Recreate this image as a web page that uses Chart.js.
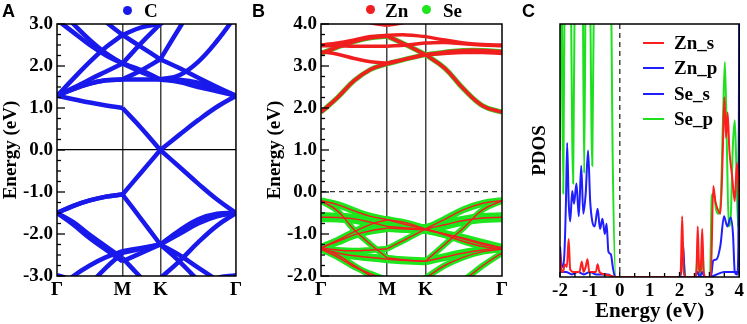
<!DOCTYPE html>
<html>
<head>
<meta charset="utf-8">
<script src="https://cdn.jsdelivr.net/npm/chart.js@4.4.0/dist/chart.umd.min.js"></script>
<style>
body { margin: 0; background: #fff; width: 747px; height: 324px; position: relative; overflow: hidden; }
canvas { position: absolute; top: 0; display: block; }
.tag { position: absolute; top: 2px; font: bold 18px "Liberation Sans", Arial, sans-serif; line-height: 18px; }
.txt { position: absolute; font: bold 19px "Liberation Serif", "Times New Roman", serif; line-height: 18px; }
.dot { position: absolute; width: 9px; height: 9px; border-radius: 50%; }
.sw { position: absolute; width: 21px; height: 2px; }
</style>
</head>
<body>
<canvas id="chartA" width="245" height="324" style="left:0"></canvas>
<canvas id="chartB" width="270" height="324" style="left:245px"></canvas>
<canvas id="chartC" width="232" height="324" style="left:515px"></canvas>

<div class="tag" style="left:2px">A</div>
<div class="tag" style="left:252px">B</div>
<div class="tag" style="left:522px">C</div>

<div class="dot" style="left:123px;top:6px;background:rgb(25,25,235)"></div>
<div class="txt" style="left:144px;top:2px">C</div>
<div class="dot" style="left:366px;top:5px;background:rgb(240,30,30)"></div>
<div class="txt" style="left:385px;top:2px">Zn</div>
<div class="dot" style="left:422px;top:5px;background:rgb(30,230,30)"></div>
<div class="txt" style="left:443px;top:2px">Se</div>
<div id="legendC"></div>

<script>
// k path: Γ - M - K - Γ
const kPath = [0, 0.2165, 0.433, 0.6495, 0.866, 1.116, 1.366, 1.6165, 1.866, 2.1165, 2.366];
const kTicks = [0, 0.866, 1.366, 2.366];
const kLabels = ['Γ', 'M', 'K', 'Γ'];
const segments = [[0, 4], [4, 6], [6, 10]];

// panel A, graphene bands (eV) at each kPath point
const bandsA = [
  [1.29, 1.21, 1.13, 1.06, 1.00, 0.52, 0.00, 0.36, 0.71, 1.03, 1.29],
  [1.29, 1.45, 1.58, 1.66, 1.68, 1.68, 1.68, 1.67, 1.60, 1.45, 1.29],
  [1.29, 1.48, 1.68, 1.87, 2.06, 2.55, 3.00, 3.40, 3.80, 4.20, 4.50],
  [4.40, 3.90, 3.45, 3.05, 2.74, 2.45, 2.16, 1.95, 1.72, 1.50, 1.29],
  [3.10, 2.80, 2.50, 2.25, 2.06, 1.85, 1.68, 1.78, 2.10, 2.60, 3.20],
  [3.40, 3.00, 2.62, 2.30, 2.06, 1.90, 1.68, 1.62, 1.50, 1.40, 1.29],
  [1.29, 1.70, 2.10, 2.45, 2.74, 2.92, 3.00, 3.30, 3.60, 3.90, 4.20],
  [1.29, 1.45, 1.58, 1.66, 1.68, 1.90, 2.16, 2.90, 3.60, 4.20, 4.80],
  [-1.50, -1.33, -1.20, -1.11, -1.06, -0.53, 0.00, -0.40, -0.80, -1.18, -1.50],
  [-1.50, -1.33, -1.20, -1.11, -1.06, -1.65, -2.25, -2.65, -3.10, -3.50, -3.90],
  [-1.50, -1.72, -2.02, -2.30, -2.57, -3.05, -3.50, -3.80, -4.00, -4.10, -4.10],
  [-1.50, -1.78, -2.10, -2.38, -2.65, -2.45, -2.25, -2.50, -2.80, -3.10, -3.40],
  [-3.30, -3.00, -2.75, -2.55, -2.41, -2.33, -2.25, -2.00, -1.75, -1.58, -1.50],
  [-4.00, -3.60, -3.20, -2.80, -2.45, -2.35, -2.25, -1.92, -1.65, -1.52, -1.50],
  [-2.98, -3.10, -3.30, -3.50, -3.60, -3.70, -3.80, -3.60, -3.30, -3.05, -2.98],
  [-4.60, -4.20, -3.90, -3.60, -3.40, -3.20, -3.05, -2.65, -2.20, -1.80, -1.50]
];

// panel B, ZnSe conduction bands (Zn-like, red)
const condB = [
  [1.90, 2.25, 2.65, 2.92, 3.05, 3.17, 3.27, 3.33, 3.37, 3.37, 3.34],
  [3.30, 3.45, 3.58, 3.67, 3.71, 3.50, 3.27, 2.95, 2.45, 2.05, 1.90],
  [3.34, 3.28, 3.18, 3.10, 3.07, 3.17, 3.27, 3.30, 3.32, 3.32, 3.30],
  [3.50, 3.55, 3.62, 3.70, 3.73, 3.74, 3.70, 3.62, 3.55, 3.51, 3.50],
  [3.48, 3.48, 3.47, 3.47, 3.47, 3.50, 3.55, 3.56, 3.53, 3.50, 3.48],
  [4.60, 4.35, 4.15, 4.03, 3.97, 4.05, 4.25, 4.50, 4.70, 4.80, 4.80]
];
// panel B, valence bands (Se-like, green with red core)
const valB = [
  [-0.21, -0.30, -0.45, -0.58, -0.66, -0.78, -0.88, -0.65, -0.42, -0.27, -0.21],
  [-0.21, -0.45, -0.90, -1.25, -1.57, -1.62, -1.65, -1.25, -0.85, -0.42, -0.21],
  [-1.33, -1.15, -0.95, -0.77, -0.66, -0.74, -0.88, -1.00, -1.12, -1.25, -1.33],
  [-1.33, -1.38, -1.40, -1.38, -1.35, -1.12, -0.88, -1.02, -1.18, -1.30, -1.36],
  [-0.60, -0.61, -0.64, -0.72, -0.82, -0.86, -0.88, -0.78, -0.68, -0.62, -0.60],
  [-1.33, -1.18, -1.02, -0.92, -0.86, -0.88, -0.90, -1.00, -1.10, -1.22, -1.33],
  [-1.36, -1.45, -1.52, -1.56, -1.60, -1.63, -1.65, -1.55, -1.45, -1.38, -1.33],
  [-1.36, -1.55, -1.78, -1.95, -2.10, -2.15, -2.05, -1.75, -1.55, -1.42, -1.36],
  [-1.33, -1.50, -1.75, -2.00, -2.25, -2.40, -2.50, -2.40, -2.10, -1.75, -1.45]
];
const valGreenWidth = [7, 6, 7, 6, 10, 8, 8, 6, 6];

// panel C, PDOS
const pdosLabels = ['Zn_s', 'Zn_p', 'Se_s', 'Se_p'];
const pdosColors = ['#ff1e1e', '#1e1eff', '#1e1eff', '#1ee01e'];
const eZnS = [-2.00,-1.96,-1.90,-1.84,-1.77,-1.71,-1.66,-1.55,-1.45,-1.35,-1.27,-1.21,-1.14,-1.08,-1.02,-0.90,-0.80,-0.74,-0.68,-0.50,-0.30,-0.15,1.98,2.04,2.09,2.14,2.20,2.52,2.57,2.61,2.66,2.71,2.76,2.81,2.88,3.05,3.13,3.20,3.27,3.37,3.45,3.50,3.56,3.61,3.67,3.76,3.85,3.92,4.00];
const znS  = [0.10,0.03,0.02,0.05,0.04,0.15,0.03,0.02,0.02,0.02,0.06,0.02,0.04,0.07,0.02,0.02,0.02,0.05,0.02,0.01,0.005,0,0,0.02,0.24,0.02,0,0,0.03,0.20,0.02,0.03,0.19,0.02,0,0,0.36,0.30,0.27,0.25,0.50,0.71,0.55,0.65,0.50,0.40,0.30,0.45,0.30];
const eZnP = [-2.00,-1.95,-1.90,-1.85,-1.80,-1.76,-1.71,-1.66,-1.59,-1.53,-1.45,-1.37,-1.29,-1.22,-1.14,-1.06,-0.99,-0.92,-0.84,-0.74,-0.66,-0.58,-0.50,-0.44,-0.38,-0.30,-0.22,-0.15,2.00,2.05,2.12,2.18,2.52,2.60,2.68,2.76,2.84,3.05,3.13,3.24,3.37,3.49,3.60,3.71,3.79,3.85,3.93,3.97,4.00];
const znP  = [0.12,0.05,0.04,0.10,0.30,0.53,0.30,0.22,0.34,0.29,0.37,0.24,0.44,0.25,0.33,0.50,0.30,0.22,0.20,0.27,0.19,0.23,0.17,0.21,0.10,0.09,0.03,0,0,0.02,0.13,0,0,0.02,0,0.02,0,0,0.065,0.07,0.125,0.24,0.20,0.235,0.17,0.02,0.01,0.12,1.10];
const eSeS = [-2.00,-1.80,-1.60,-1.40,-1.20,-1.00,-0.80,-0.60,-0.40,-0.20,2.00,3.00,3.50,4.00];
const seS  = [0.02,0.02,0.01,0.02,0.01,0.02,0.01,0.01,0.01,0,0,0,0.02,0.02];
const eSeP = [-2.00,-1.96,-1.89,-1.83,-1.75,-1.66,-1.56,-1.48,-1.37,-1.25,-1.19,-1.12,-1.02,-0.92,-0.84,-0.60,-0.36,-0.24,-0.13,1.98,2.04,2.12,2.20,2.52,2.56,2.61,2.66,2.72,2.77,2.82,3.02,3.08,3.15,3.22,3.30,3.38,3.45,3.52,3.58,3.65,3.72,3.78,3.85,3.90,3.96,4.00];
const seP  = [0.50,1.40,0.33,1.50,1.80,1.40,0.37,1.60,2.00,1.40,0.41,1.50,1.40,0.44,1.50,2.50,2.00,0.50,0,0,0.01,0.085,0,0,0.01,0.12,0.01,0.01,0.11,0,0,0.32,0.33,0.27,0.25,0.30,0.60,0.85,0.55,0.20,0.25,0.50,0.62,0.45,0.20,0.70];

const serif = '"Liberation Serif", "Times New Roman", serif';
const tickFont = {family: serif, size: 19, weight: 'bold'};
const titleFont = {family: serif, size: 19, weight: 'bold'};

const framePlugin = {
  id: 'frame',
  afterDatasetsDraw(chart) {
    const {ctx, chartArea: a} = chart;
    ctx.save();
    ctx.strokeStyle = '#000';
    ctx.lineWidth = 1.5;
    ctx.strokeRect(a.left, a.top, a.right - a.left, a.bottom - a.top);
    ctx.restore();
  }
};

const innerTicks = {
  id: 'innerTicks',
  afterDatasetsDraw(chart, args, opts) {
    const sc = chart.scales[opts.axis];
    const a = chart.chartArea;
    const ctx = chart.ctx;
    ctx.save();
    ctx.strokeStyle = '#000';
    ctx.lineWidth = 1.3;
    const n = Math.round((sc.max - sc.min) / opts.step);
    for (let i = 0; i <= n; i++) {
      const v = sc.min + i * opts.step;
      const p = sc.getPixelForValue(v);
      const major = Math.abs(v - Math.round(v)) < 1e-6;
      const len = major ? opts.len : opts.minorLen;
      ctx.beginPath();
      if (opts.axis === 'y') { ctx.moveTo(a.left, p); ctx.lineTo(a.left + len, p); }
      else { ctx.moveTo(p, a.bottom); ctx.lineTo(p, a.bottom - len); }
      ctx.stroke();
    }
    ctx.restore();
  }
};

function bandSets(bands, color, widthOf, order) {
  const out = [];
  bands.forEach((b, j) => {
    segments.forEach(([s, e]) => {
      const pts = [];
      for (let i = s; i <= e; i++) pts.push({x: kPath[i], y: b[i]});
      out.push({data: pts, borderColor: color, borderWidth: widthOf(j), pointRadius: 0, tension: 0.4, order: order});
    });
  });
  return out;
}

function bandOptions(ymin, ymax, yWidth, titlePad, padRight, zeroColor, zeroDash) {
  return {
    responsive: false,
    animation: false,
    layout: {padding: {top: 24, right: padRight, left: 0, bottom: 0}},
    plugins: {
      legend: {display: false},
      tooltip: {enabled: false},
      innerTicks: {axis: 'y', step: 0.25, len: 8, minorLen: 4}
    },
    scales: {
      x: {
        type: 'linear', min: 0, max: 2.366,
        afterBuildTicks: s => { s.ticks = kTicks.map(v => ({value: v})); },
        afterFit: s => { s.height = 48; },
        ticks: {callback: (v, i) => kLabels[i], font: tickFont, color: '#000', padding: 3, maxRotation: 0, autoSkip: false},
        grid: {drawTicks: false, lineWidth: 1.5, color: c => (c.index === 1 || c.index === 2) ? '#444' : 'rgba(0,0,0,0)'},
        border: {display: false}
      },
      y: {
        min: ymin, max: ymax,
        afterFit: s => { s.width = yWidth; },
        ticks: {stepSize: 1, callback: v => v.toFixed(1), font: tickFont, color: '#000', padding: 4},
        grid: {drawTicks: false, lineWidth: 1.2, color: c => c.tick.value === 0 ? zeroColor : 'rgba(0,0,0,0)'},
        border: {display: false, dash: zeroDash},
        title: {display: true, text: 'Energy (eV)', font: titleFont, color: '#000', padding: {top: titlePad, bottom: 0}}
      }
    }
  };
}

new Chart(document.getElementById('chartA'), {
  type: 'line',
  data: {datasets: bandSets(bandsA, 'rgb(25,25,235)', () => 4.5, 0)},
  options: bandOptions(-3, 3, 57, 0, 8, '#000', []),
  plugins: [framePlugin, innerTicks]
});

new Chart(document.getElementById('chartB'), {
  type: 'line',
  data: {datasets: [].concat(
    bandSets(condB, 'rgb(240,30,30)', () => 3.5, 0),
    bandSets(condB.slice(0, 2), 'rgb(60,200,30)', () => 5, 1),
    bandSets(valB, 'rgb(240,30,30)', () => 1.5, 0),
    bandSets(valB, 'rgb(30,230,30)', j => valGreenWidth[j], 2)
  )},
  options: bandOptions(-2, 4, 76, 19, 13, '#333', [5, 4]),
  plugins: [framePlugin, innerTicks]
});

const pdosE = [eZnS, eZnP, eSeS, eSeP];
const pdosV = [znS, znP, seS, seP];

new Chart(document.getElementById('chartC'), {
  type: 'line',
  data: {datasets: pdosLabels.map((lab, k) => ({
    label: lab,
    data: pdosE[k].map((e, i) => ({x: e, y: pdosV[k][i]})),
    borderColor: pdosColors[k], borderWidth: 2, pointRadius: 0,
    cubicInterpolationMode: 'monotone'
  }))},
  options: {
    responsive: false,
    animation: false,
    layout: {padding: {top: 24, right: 6, left: 0, bottom: 0}},
    plugins: {
      legend: {display: false},
      tooltip: {enabled: false},
      innerTicks: {axis: 'x', step: 0.5, len: 5, minorLen: 4}
    },
    scales: {
      x: {
        type: 'linear', min: -2, max: 4,
        afterFit: s => { s.height = 47; },
        ticks: {stepSize: 1, callback: v => String(v), font: tickFont, color: '#000', padding: 3, maxRotation: 0},
        grid: {drawTicks: false, lineWidth: 1.5, color: c => c.tick.value === 0 ? '#444' : 'rgba(0,0,0,0)'},
        border: {display: false, dash: [5, 4]},
        title: {display: true, text: 'Energy (eV)', font: {family: serif, size: 21, weight: 'bold'}, color: '#000', padding: {top: 0, bottom: 0}}
      },
      y: {
        min: 0, max: 1,
        afterFit: s => { s.width = 45; },
        ticks: {display: false},
        grid: {display: false},
        border: {display: false},
        title: {display: true, text: 'PDOS', font: titleFont, color: '#000', padding: {top: 14, bottom: 0}}
      }
    }
  },
  plugins: [framePlugin, innerTicks]
});

// legend for panel C
const legend = document.getElementById('legendC');
pdosLabels.forEach((lab, k) => {
  const y = 42.5 + k * 25.6;
  const sw = document.createElement('div');
  sw.className = 'sw';
  sw.style.left = '643px';
  sw.style.top = (y - 1) + 'px';
  sw.style.background = pdosColors[k];
  legend.appendChild(sw);
  const t = document.createElement('div');
  t.className = 'txt';
  t.style.left = '674px';
  t.style.top = (y - 9) + 'px';
  t.textContent = lab;
  legend.appendChild(t);
});
</script>
</body>
</html>
